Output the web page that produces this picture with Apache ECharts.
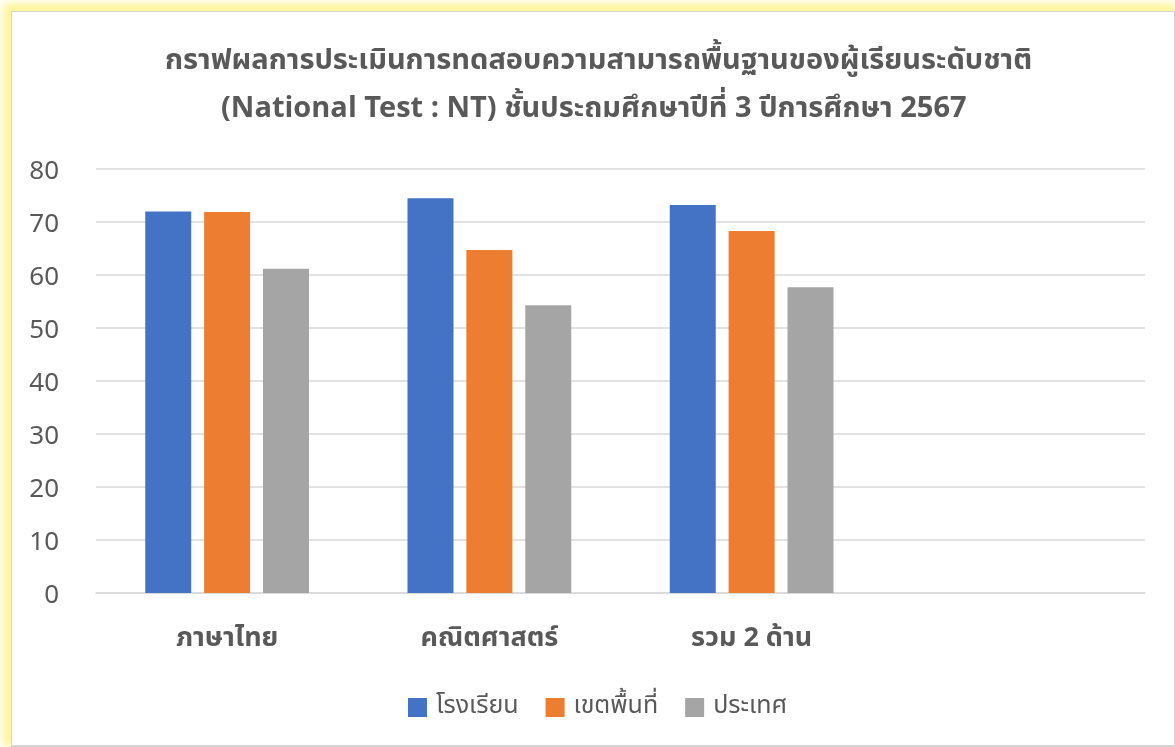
<!DOCTYPE html>
<html>
<head>
<meta charset="utf-8">
<script src="https://cdn.jsdelivr.net/npm/echarts@6/dist/echarts.min.js"></script>
<style>
html,body{margin:0;padding:0;background:#fff;width:1175px;height:747px;overflow:hidden;}
#panel{position:absolute;left:11px;top:11px;width:1162px;height:733px;border:1px solid #d4d4d4;border-right-width:2px;border-bottom-width:2px;box-shadow:-4px -4px 8px 4px #fff59a;background:#fff;}
#chart{position:absolute;left:0;top:0;width:1175px;height:747px;}
</style>
</head>
<body>
<div id="panel"></div>
<div id="chart"></div>
<script>
const titleLines = ['กราฟผลการประเมินการทดสอบความสามารถพื้นฐานของผู้เรียนระดับชาติ', '(National Test : NT) ชั้นประถมศึกษาปีที่ 3 ปีการศึกษา 2567'];
const categories = ['ภาษาไทย', 'คณิตศาสตร์', 'รวม 2 ด้าน', ''];
const seriesNames = ['โรงเรียน', 'เขตพื้นที่', 'ประเทศ'];
const schoolValues = [72.0, 74.5, 73.2, null];
const areaValues = [71.9, 64.7, 68.3, null];
const countryValues = [61.2, 54.3, 57.7, null];
const yTicks = [0, 10, 20, 30, 40, 50, 60, 70, 80];

const FONT = '"Noto Sans Thai", "Noto Sans", "DejaVu Sans", sans-serif';
const colors = ['#4472c4', '#ed7d31', '#a5a5a5'];
const chart = echarts.init(document.getElementById('chart'), null, {renderer: 'canvas'});
const dataSets = [schoolValues, areaValues, countryValues];
const titleStyle = {fontFamily: FONT, fontSize: 29, fontWeight: 'bold', color: '#595959', lineHeight: 44};
chart.setOption({
  animation: false,
  backgroundColor: 'transparent',
  textStyle: {fontFamily: FONT},
  title: [
    {text: titleLines[0], left: 165, top: 41, padding: 0, textStyle: titleStyle},
    {text: titleLines[1], left: 221, top: 89, padding: 0, textStyle: titleStyle}
  ],
  legend: {
    data: seriesNames,
    top: 690,
    left: 403,
    icon: 'rect',
    itemWidth: 19,
    itemHeight: 19,
    itemGap: 27,
    textStyle: {fontFamily: FONT, fontSize: 25, color: '#595959', padding: [2, 0, 0, 4]}
  },
  grid: {left: 96, right: 30, top: 169, bottom: 154, containLabel: false},
  xAxis: {
    type: 'category',
    data: categories,
    axisLine: {show: true, lineStyle: {color: '#d9d9d9', width: 1.5}},
    axisTick: {show: false},
    axisLabel: {fontFamily: FONT, fontSize: 27, fontWeight: 'bold', color: '#595959', margin: 34}
  },
  yAxis: {
    type: 'value',
    min: yTicks[0],
    max: yTicks[yTicks.length - 1],
    interval: 10,
    axisLine: {show: false},
    axisTick: {show: false},
    splitLine: {lineStyle: {color: '#d9d9d9', width: 1.5}},
    axisLabel: {
      margin: 37,
      formatter: v => '{v|' + v + '}',
      rich: {v: {fontFamily: FONT, fontSize: 26, color: '#595959', padding: [10, 0, 0, 0]}}
    }
  },
  series: seriesNames.map((n, i) => ({
    name: n,
    type: 'bar',
    data: dataSets[i],
    barWidth: 46,
    barGap: '28%',
    itemStyle: {color: colors[i]}
  }))
});
</script>
</body>
</html>
